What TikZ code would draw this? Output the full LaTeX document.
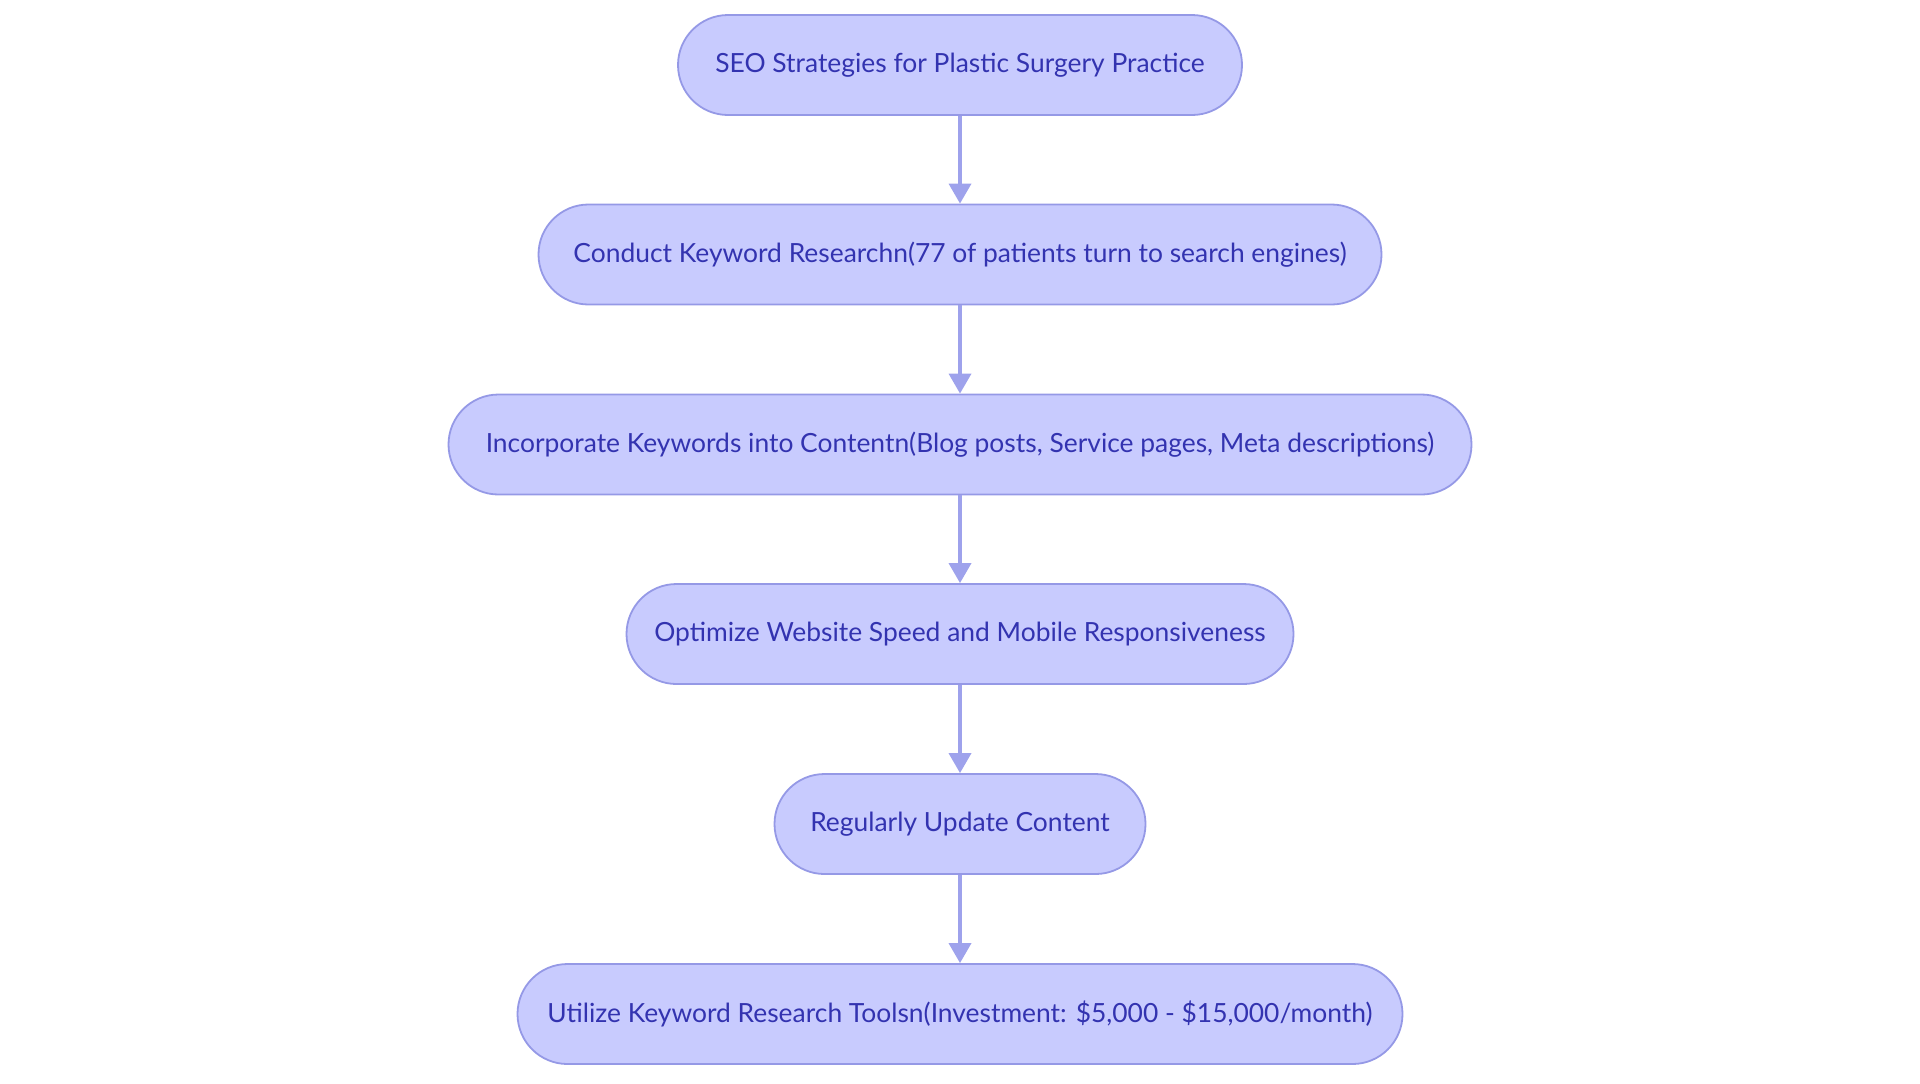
\documentclass[tikz,border=0pt]{standalone}
\usepackage{fontspec}
\setmainfont{Lato}
\usetikzlibrary{arrows.meta}
\definecolor{boxfill}{HTML}{C8CBFE}
\definecolor{boxline}{HTML}{9599E6}
\definecolor{boxtext}{HTML}{3333B0}
\definecolor{arrowc}{HTML}{9EA2EC}
\tikzset{
  stadium/.style={draw=boxline, line width=0.9pt, fill=boxfill, text=boxtext,
    rounded corners=25pt, minimum height=50pt, inner sep=0pt,
    font=\fontsize{13.2pt}{16pt}\selectfont},
  flow/.style={draw=arrowc, line width=1.8pt, -{Triangle[width=11pt,length=10pt]}}
}
\begin{document}
\begin{tikzpicture}[x=0.5pt,y=-0.5pt]
\useasboundingbox (0,0) rectangle (1920,1083);
\node[stadium, minimum width=282pt] (n1) at (960,65) {SEO Strategies for Plastic Surgery Practice};
\node[stadium, minimum width=421.5pt] (n2) at (960,254.5) {Conduct Keyword Researchn(77 of patients turn to search engines)};
\node[stadium, minimum width=511.5pt] (n3) at (960,444.5) {Incorporate Keywords into Contentn(Blog posts, Service pages, Meta descriptions)};
\node[stadium, minimum width=333.5pt] (n4) at (960,634) {Optimize Website Speed and Mobile Responsiveness};
\node[stadium, minimum width=185.5pt] (n5) at (960,824) {Regularly Update Content};
\node[stadium, minimum width=442.5pt] (n6) at (960,1014) {Utilize Keyword Research Toolsn(Investment: \$5,000 - \$15,000/month)};
\draw[flow] (n1) -- (n2);
\draw[flow] (n2) -- (n3);
\draw[flow] (n3) -- (n4);
\draw[flow] (n4) -- (n5);
\draw[flow] (n5) -- (n6);
\end{tikzpicture}
\end{document}
